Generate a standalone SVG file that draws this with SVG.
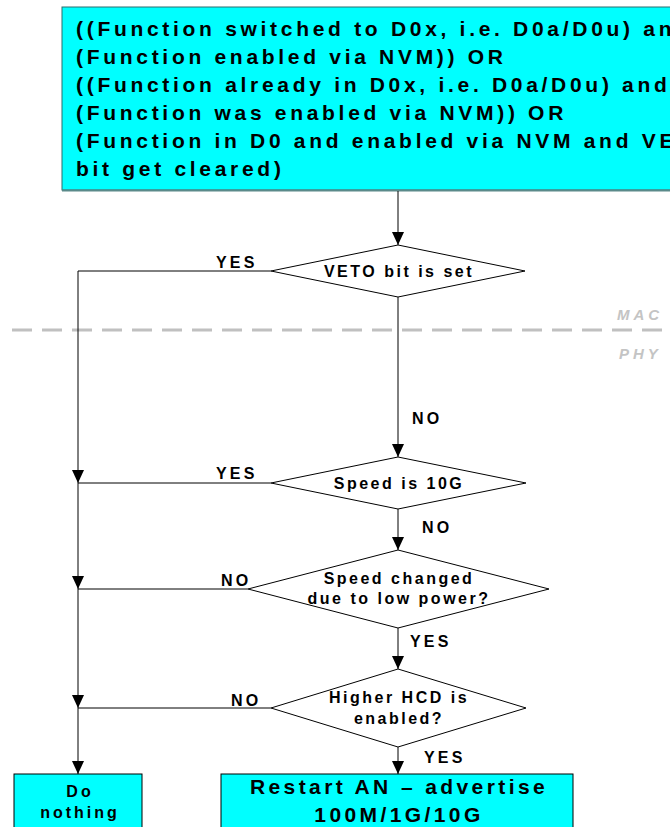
<svg xmlns="http://www.w3.org/2000/svg" width="670" height="827" viewBox="0 0 670 827">
<style>
.box{fill:#00FFFF;stroke:#000;stroke-width:1}
.dia{fill:#fff;stroke:#000;stroke-width:1}
.ln{fill:none;stroke:#000;stroke-width:1}
.t{font-family:"Liberation Sans",Arial,sans-serif;font-weight:bold;fill:#000}
.big{font-size:21px;letter-spacing:3.7px}
.mid{font-size:16px;letter-spacing:2.5px}
.lbl{font-size:16px;letter-spacing:3.2px}
.layer{font-family:"Liberation Sans",Arial,sans-serif;font-weight:bold;font-style:italic;font-size:15px;letter-spacing:4px;fill:#C4C4C4}
</style>
<defs>
<marker id="ah" markerWidth="13" markerHeight="12" refX="13" refY="6" orient="auto" markerUnits="userSpaceOnUse">
<path d="M0,0 L13,6 L0,12 Z" fill="#000"/>
</marker>
</defs>
<rect width="670" height="827" fill="#fff"/>
<g id="layers">
<line x1="12" y1="330" x2="670" y2="330" stroke="#C0C0C0" stroke-width="3" stroke-dasharray="20,10"/>
<text class="layer" x="617" y="320">MAC</text>
<text class="layer" x="619" y="359">PHY</text>
</g>
<g id="start">
<rect class="box" x="62" y="7" width="620" height="183" style="stroke:#2a6e6e"/>
<line x1="62" y1="190.5" x2="670" y2="190.5" stroke="#5a8a8a" stroke-width="2"/>
<text class="t big" x="76" y="36">((Function switched to D0x, i.e. D0a/D0u) and</text>
<text class="t big" x="76" y="64">(Function enabled via NVM)) OR</text>
<text class="t big" x="76" y="92">((Function already in D0x, i.e. D0a/D0u) and</text>
<text class="t big" x="76" y="120">(Function was enabled via NVM)) OR</text>
<text class="t big" x="76" y="148">(Function in D0 and enabled via NVM and VETO</text>
<text class="t big" x="76" y="176">bit get cleared)</text>
</g>
<g id="d1">
<polygon class="dia" points="398,245 525,271 398,297 271,271"/>
<text class="t mid" x="399" y="277" text-anchor="middle">VETO bit is set</text>
</g>
<g id="d2">
<polygon class="dia" points="398,457 526,483 398,509 271,483"/>
<text class="t mid" x="399" y="489" text-anchor="middle">Speed is 10G</text>
</g>
<g id="d3">
<polygon class="dia" points="398,550 549,589 398,628 248,589"/>
<text class="t mid" x="399" y="584" text-anchor="middle">Speed changed</text>
<text class="t mid" x="399" y="604" text-anchor="middle">due to low power?</text>
</g>
<g id="d4">
<polygon class="dia" points="398,669 526,708 398,747 271,708"/>
<text class="t mid" x="399" y="703" text-anchor="middle">Higher HCD is</text>
<text class="t mid" x="399" y="724" text-anchor="middle">enabled?</text>
</g>
<g id="nothing">
<rect class="box" x="14" y="774" width="128" height="60"/>
<text class="t mid" x="80" y="797" text-anchor="middle" style="letter-spacing:3px">Do</text>
<text class="t mid" x="80" y="818" text-anchor="middle" style="letter-spacing:3px">nothing</text>
</g>
<g id="restart">
<rect class="box" x="221" y="774" width="352" height="60"/>
<text class="t big" x="399" y="794" text-anchor="middle" style="letter-spacing:3.4px">Restart AN – advertise</text>
<text class="t big" x="399" y="822" text-anchor="middle" style="letter-spacing:3.4px">100M/1G/10G</text>
</g>
<g id="connectors">
<line class="ln" x1="398" y1="191" x2="398" y2="245" marker-end="url(#ah)"/>
<polyline class="ln" points="271,271 78,271 78,483" marker-end="url(#ah)"/>
<line class="ln" x1="398" y1="297" x2="398" y2="457" marker-end="url(#ah)"/>
<polyline class="ln" points="271,483 78,483"/>
<line class="ln" x1="78" y1="483" x2="78" y2="589" marker-end="url(#ah)"/>
<line class="ln" x1="398" y1="509" x2="398" y2="550" marker-end="url(#ah)"/>
<polyline class="ln" points="248,589 78,589"/>
<line class="ln" x1="78" y1="589" x2="78" y2="708" marker-end="url(#ah)"/>
<line class="ln" x1="398" y1="628" x2="398" y2="669" marker-end="url(#ah)"/>
<polyline class="ln" points="271,708 78,708"/>
<line class="ln" x1="78" y1="708" x2="78" y2="774" marker-end="url(#ah)"/>
<line class="ln" x1="398" y1="747" x2="398" y2="774" marker-end="url(#ah)"/>
<text class="t lbl" x="216" y="268">YES</text>
<text class="t lbl" x="412" y="424">NO</text>
<text class="t lbl" x="216" y="479">YES</text>
<text class="t lbl" x="422" y="533">NO</text>
<text class="t lbl" x="221" y="586">NO</text>
<text class="t lbl" x="410" y="647">YES</text>
<text class="t lbl" x="231" y="706">NO</text>
<text class="t lbl" x="424" y="763">YES</text>
</g>
</svg>
